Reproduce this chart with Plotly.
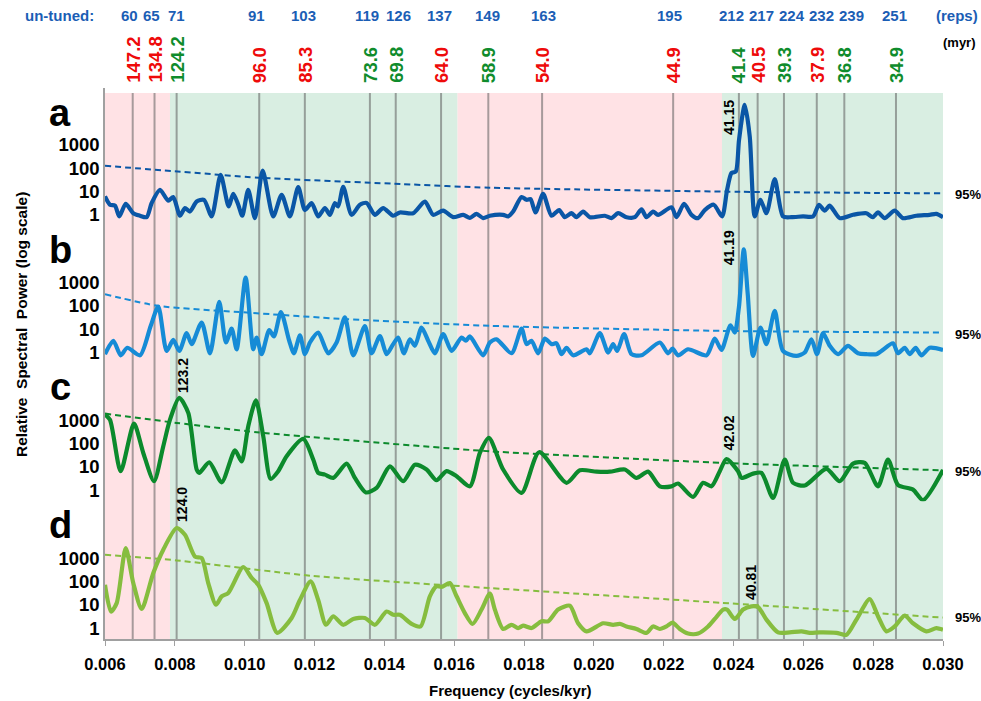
import plotly.graph_objects as go

# ---------------- data (frequency in cycles/kyr, relative spectral power) ----------------
freq_a = [0.006000, 0.006143, 0.006286, 0.006409, 0.006593, 0.006810, 0.007002, 0.007194, 0.007337, 0.007575,
          0.007812, 0.007955, 0.008147, 0.008290, 0.008433, 0.008625, 0.008834, 0.009055, 0.009312, 0.009541,
          0.009673, 0.009816, 0.009931, 0.010102, 0.010294, 0.010515, 0.010818, 0.011059, 0.011296, 0.011534,
          0.011726, 0.011918, 0.012106, 0.012298, 0.012441, 0.012585, 0.012679, 0.012822, 0.013063, 0.013300,
          0.013492, 0.013730, 0.013967, 0.014254, 0.014445, 0.014826, 0.015161, 0.015399, 0.015685, 0.015971,
          0.016258, 0.016450, 0.016641, 0.016830, 0.017022, 0.017403, 0.017546, 0.017689, 0.017930, 0.018073,
          0.018187, 0.018330, 0.018548, 0.018788, 0.019006, 0.019169, 0.019361, 0.019504, 0.019693, 0.019885,
          0.020314, 0.020506, 0.020695, 0.020936, 0.021173, 0.021365, 0.021508, 0.021697, 0.021840, 0.022224,
          0.022367, 0.022585, 0.022797, 0.022986, 0.023177, 0.023435, 0.023673, 0.023816, 0.023942, 0.024065,
          0.024159, 0.024322, 0.024465, 0.024609, 0.024772, 0.024943, 0.025181, 0.025418, 0.025659, 0.025991,
          0.026278, 0.026449, 0.026613, 0.026756, 0.027042, 0.027423, 0.027807, 0.027987, 0.028138, 0.028330,
          0.028616, 0.028854, 0.029238, 0.029618, 0.029810, 0.030000]
pow_a = [6.2, 2.7, 2.45, 0.85, 2.95, 1.17, 0.91, 0.79, 3.2, 11.7,
         4.0, 5.8, 0.91, 1.95, 1.38, 3.7, 4.4, 0.85, 52, 2.3,
         7.9, 2.7, 0.91, 11.7, 0.72, 79, 0.85, 7.2, 0.85, 15.5,
         1.6, 3.2, 0.85, 1.95, 1.0, 3.2, 2.3, 16, 1.0, 2.7,
         3.2, 1.0, 1.95, 0.91, 1.26, 1.17, 3.7, 1.0, 1.5, 0.79,
         1.0, 0.74, 1.1, 0.72, 0.91, 1.0, 0.85, 1.38, 5.8, 4.4,
         4.7, 1.26, 7.9, 0.91, 1.6, 0.79, 1.17, 0.79, 1.38, 0.79,
         0.91, 0.72, 1.17, 0.79, 0.79, 1.7, 0.79, 1.38, 1.0, 2.1,
         0.79, 2.95, 1.0, 0.72, 1.6, 2.7, 0.85, 11.7, 62, 72,
         1660, 52000, 2300, 0.85, 4.4, 1.17, 34, 0.85, 0.79, 0.85,
         0.85, 2.7, 1.5, 2.45, 0.72, 1.0, 1.17, 0.79, 1.26, 0.72,
         1.5, 0.72, 0.91, 1.0, 1.1, 0.79]

freq_b = [0.006000, 0.006238, 0.006449, 0.006638, 0.007002, 0.007308, 0.007526, 0.007766, 0.007955, 0.008127,
          0.008339, 0.008482, 0.008768, 0.009006, 0.009272, 0.009464, 0.009627, 0.009770, 0.010028, 0.010246,
          0.010343, 0.010486, 0.010704, 0.010838, 0.011039, 0.011276, 0.011411, 0.011583, 0.011726, 0.011869,
          0.012106, 0.012393, 0.012633, 0.012871, 0.013109, 0.013443, 0.013635, 0.013873, 0.014065, 0.014254,
          0.014397, 0.014560, 0.014732, 0.014875, 0.015067, 0.015256, 0.015447, 0.015685, 0.015926, 0.016212,
          0.016335, 0.016450, 0.016830, 0.017022, 0.017214, 0.017643, 0.017930, 0.018073, 0.018216, 0.018405,
          0.018597, 0.018788, 0.018931, 0.019074, 0.019218, 0.019407, 0.019791, 0.019885, 0.020171, 0.020409,
          0.020552, 0.020667, 0.020867, 0.021079, 0.021365, 0.021889, 0.022127, 0.022253, 0.022413, 0.022699,
          0.023226, 0.023464, 0.023655, 0.023913, 0.024036, 0.024159, 0.024294, 0.024408, 0.024560, 0.024772,
          0.024943, 0.025181, 0.025418, 0.025802, 0.026040, 0.026232, 0.026392, 0.026564, 0.026756, 0.026994,
          0.027280, 0.027566, 0.027807, 0.028093, 0.028236, 0.028568, 0.028711, 0.028903, 0.029046, 0.029218,
          0.029381, 0.029619, 0.030000]
pow_b = [0.85, 3.2, 0.76, 1.6, 0.76, 13.8, 93, 1.17, 3.5, 1.17,
         6.8, 2.3, 19.5, 0.93, 148, 2.7, 10.7, 1.38, 1660, 1.38,
         4.4, 0.85, 9.3, 4.9, 55, 3.2, 0.93, 5.5, 0.85, 2.7,
         7.2, 0.93, 2.7, 32, 0.76, 13.8, 0.93, 5.1, 0.85, 2.3,
         4.4, 0.93, 3.7, 1.95, 11.7, 3.2, 0.93, 6.2, 1.17, 4.4,
         3.2, 4.9, 0.76, 2.7, 3.7, 0.93, 10.7, 2.3, 3.2, 0.93,
         4.0, 2.3, 2.5, 0.85, 1.6, 0.76, 1.38, 0.93, 6.8, 1.0,
         2.3, 1.17, 6.2, 0.85, 0.76, 2.7, 0.93, 1.48, 0.76, 1.38,
         0.76, 4.0, 1.3, 14.8, 7.2, 100, 27000, 316, 0.72, 11.7,
         2.3, 62, 1.17, 0.72, 1.0, 3.7, 0.85, 6.8, 1.95, 0.85,
         1.95, 0.93, 0.85, 0.85, 1.17, 2.5, 0.93, 1.6, 0.85, 1.6,
         0.76, 1.6, 1.3]

freq_c = [0.006000, 0.006143, 0.006449, 0.006830, 0.007096, 0.007403, 0.007669, 0.007861, 0.008127, 0.008385,
          0.008625, 0.008700, 0.008986, 0.009341, 0.009722, 0.009914, 0.010103, 0.010323, 0.010532, 0.010744,
          0.010961, 0.011202, 0.011677, 0.011963, 0.012106, 0.012298, 0.012536, 0.012920, 0.013157, 0.013472,
          0.013778, 0.014159, 0.014540, 0.014875, 0.015210, 0.015496, 0.015782, 0.016069, 0.016450, 0.016736,
          0.016994, 0.017403, 0.017930, 0.018434, 0.019218, 0.019599, 0.020077, 0.020458, 0.020887, 0.021222,
          0.021554, 0.021889, 0.022224, 0.022413, 0.022842, 0.023129, 0.023369, 0.023607, 0.023799, 0.024131,
          0.024228, 0.024560, 0.024801, 0.025133, 0.025468, 0.025705, 0.026040, 0.026661, 0.027042, 0.027423,
          0.027758, 0.028138, 0.028425, 0.028711, 0.029141, 0.029427, 0.030000]
pow_c = [1780, 1070, 6.6, 724, 40, 2.45, 78, 1070, 9300, 2090,
         7.8, 5.6, 15.8, 2.2, 52, 17.4, 560, 7200, 210, 3.1,
         6.6, 29, 160, 21, 5.6, 4.7, 3.4, 14, 3.4, 0.81,
         1.26, 10.7, 2.45, 12.6, 7.8, 2.7, 6.6, 4.0, 1.48, 40,
         178, 7.8, 0.78, 43, 2.1, 7.2, 6.3, 6.3, 7.8, 3.4,
         6.3, 1.48, 1.48, 1.95, 0.52, 2.1, 1.48, 6.6, 22, 6.6,
         3.4, 5.2, 5.6, 0.47, 21, 2.1, 1.6, 8.3, 2.45, 14,
         15, 1.48, 21, 1.7, 1.07, 0.38, 7.4]

freq_d = [0.006000, 0.006172, 0.006335, 0.006593, 0.006810, 0.007051, 0.007383, 0.007669, 0.008053, 0.008290,
          0.008577, 0.008768, 0.008957, 0.009178, 0.009341, 0.009530, 0.009959, 0.010200, 0.010389, 0.010629,
          0.010933, 0.011345, 0.011583, 0.011889, 0.012106, 0.012327, 0.012536, 0.012822, 0.013109, 0.013443,
          0.013730, 0.014065, 0.014254, 0.014445, 0.014780, 0.015038, 0.015304, 0.015496, 0.015639, 0.015877,
          0.016069, 0.016306, 0.016527, 0.016784, 0.017022, 0.017165, 0.017403, 0.017643, 0.017832, 0.017975,
          0.018216, 0.018502, 0.018691, 0.018977, 0.019312, 0.019549, 0.019790, 0.020266, 0.020552, 0.020744,
          0.020936, 0.021222, 0.021508, 0.021697, 0.021889, 0.022080, 0.022253, 0.022462, 0.022699, 0.022986,
          0.023272, 0.023464, 0.023702, 0.023816, 0.024036, 0.024274, 0.024514, 0.024703, 0.024943, 0.025276,
          0.025611, 0.025946, 0.026184, 0.026470, 0.026948, 0.027234, 0.027520, 0.027901, 0.028138, 0.028379,
          0.028616, 0.028903, 0.029141, 0.029523, 0.029810, 0.030000]
pow_d = [72, 5.1, 11.7, 2700, 85, 6.6, 230, 2300, 19500, 10000,
         1170, 1000, 85, 10, 23, 32, 417, 141, 72, 11.7,
         0.62, 2.7, 16, 100, 16, 1.38, 3.2, 1.38, 2.45, 2.7,
         1.38, 5.1, 3.7, 3.7, 1.5, 1.17, 23, 62, 58, 85,
         23, 4.4, 1.5, 6.2, 30, 6.2, 0.91, 1.38, 1.0, 1.26,
         1.0, 1.95, 1.95, 6.2, 9.1, 1.6, 0.72, 1.6, 1.38, 1.5,
         1.17, 0.91, 0.62, 1.17, 0.91, 1.17, 1.7, 0.91, 0.58, 0.58,
         1.17, 2.45, 6.2, 6.2, 2.45, 6.2, 8.5, 7.9, 2.3, 0.65,
         0.65, 0.72, 0.62, 0.65, 0.62, 0.51, 2.3, 17.4, 3.2, 0.72,
         1.17, 3.4, 1.6, 0.72, 1.0, 0.85]

# 95% confidence levels
conf_a_f = [0.006000, 0.008000, 0.010410, 0.014450, 0.017020, 0.024180, 0.030000]
conf_a_p = [126, 74, 39, 21, 14.5, 9.7, 8.3]
conf_b_f = [0.006000, 0.007526, 0.010060, 0.012920, 0.017020, 0.023690, 0.030000]
conf_b_p = [316, 100, 52, 27, 14, 8.5, 7.2]
conf_c_f = [0.006000, 0.008050, 0.010350, 0.012530, 0.017020, 0.023690, 0.030000]
conf_c_p = [1950, 780, 310, 160, 47, 15, 7.2]
conf_d_f = [0.006000, 0.008050, 0.011890, 0.017020, 0.023690, 0.030000]
conf_d_p = [1400, 800, 175, 52, 12, 2.8]

# cycle periods (kyr) marked by vertical lines, and un-tuned repetitions
periods = [147.2, 134.8, 124.2, 96.0, 85.3, 73.6, 69.8, 64.0, 58.9, 54.0, 44.9, 41.4, 40.5, 39.3, 37.9, 36.8, 34.9]
period_kind = ['r', 'r', 'g', 'r', 'r', 'g', 'g', 'r', 'g', 'r', 'r', 'g', 'r', 'g', 'r', 'g', 'g']
reps = [60, 65, 71, 91, 103, 119, 126, 137, 149, 163, 195, 212, 217, 224, 232, 239, 251]

# shaded frequency bands
pink_bands = [(0.006, 0.00786), (0.01609, 0.02367)]
green_bands = [(0.00786, 0.01609), (0.02367, 0.030)]

# peak labels: (panel, period label, frequency)
peak_labels = [("a", "41.15", 0.02430), ("b", "41.19", 0.02428), ("c", "123.2", 0.00812),
               ("c", "42.02", 0.02380), ("d", "124.0", 0.00806), ("d", "40.81", 0.02450)]

x_ticks = [0.006, 0.008, 0.010, 0.012, 0.014, 0.016, 0.018, 0.020, 0.022, 0.024, 0.026, 0.028, 0.030]

# ---------------- layout helpers ----------------
W, H = 981, 701
ML, MR, MT, MB = 105, 38, 88, 62
PW, PH = W - ML - MR, H - MT - MB


def px(xp):
    return (xp - ML) / PW


def py(yp):
    return (H - MB - yp) / PH


FONT = "Arial, Liberation Sans, sans-serif"
RED = "#ee0a0a"
GRN = "#0f8c2c"
BLUE_T = "#1b5eb5"

colors = {"a": "#0a56a6", "b": "#168bd6", "c": "#0c8a2c", "d": "#86bd3f"}
yref = {"a": "y", "b": "y2", "c": "y3", "d": "y4"}

fig = go.Figure()

series = [("a", freq_a, pow_a, conf_a_f, conf_a_p),
          ("b", freq_b, pow_b, conf_b_f, conf_b_p),
          ("c", freq_c, pow_c, conf_c_f, conf_c_p),
          ("d", freq_d, pow_d, conf_d_f, conf_d_p)]

for name, fx, fy, cx, cy in series:
    fig.add_trace(go.Scatter(x=cx, y=cy, mode="lines", yaxis=yref[name],
                             line=dict(color=colors[name], width=2, dash="6px,4px", shape="spline", smoothing=0.6),
                             showlegend=False, hoverinfo="skip"))
    fig.add_trace(go.Scatter(x=fx, y=fy, mode="lines", yaxis=yref[name],
                             line=dict(color=colors[name], width=4.2, shape="spline", smoothing=0.7),
                             showlegend=False))

shapes = []
top_paper = py(93)
for x0, x1 in pink_bands:
    shapes.append(dict(type="rect", xref="x", yref="paper", x0=x0, x1=x1, y0=0, y1=top_paper,
                       fillcolor="#ffe2e5", line=dict(width=0), layer="below"))
for x0, x1 in green_bands:
    shapes.append(dict(type="rect", xref="x", yref="paper", x0=x0, x1=x1, y0=0, y1=top_paper,
                       fillcolor="#d9eee2", line=dict(width=0), layer="below"))
for p in periods:
    shapes.append(dict(type="line", xref="x", yref="paper", x0=1 / p, x1=1 / p, y0=0, y1=top_paper,
                       line=dict(color="rgba(95,95,95,0.55)", width=2), layer="below"))

annotations = []
# panel letters
for name, yc in [("a", 113), ("b", 250), ("c", 387), ("d", 525)]:
    annotations.append(dict(text="<b>%s</b>" % name, xref="paper", yref="paper", x=px(60), y=py(yc),
                            showarrow=False, font=dict(family=FONT, size=38, color="black"),
                            xanchor="center", yanchor="middle"))
# 95% labels
for yc in [194, 334, 471, 617]:
    annotations.append(dict(text="<b>95%</b>", xref="paper", yref="paper", x=px(968), y=py(yc),
                            showarrow=False, font=dict(family=FONT, size=13, color="black"),
                            xanchor="center", yanchor="middle"))
# un-tuned reps row
annotations.append(dict(text="<b>un-tuned:</b>", xref="paper", yref="paper", x=px(59), y=py(16),
                        showarrow=False, font=dict(family=FONT, size=15, color=BLUE_T),
                        xanchor="center", yanchor="middle"))
annotations.append(dict(text="<b>(reps)</b>", xref="paper", yref="paper", x=px(957), y=py(16),
                        showarrow=False, font=dict(family=FONT, size=15, color=BLUE_T),
                        xanchor="center", yanchor="middle"))
annotations.append(dict(text="<b>(myr)</b>", xref="paper", yref="paper", x=px(960), y=py(43),
                        showarrow=False, font=dict(family=FONT, size=13, color="black"),
                        xanchor="center", yanchor="middle"))
rep_shift = [-3, -3, 0, -3, -1, -3, 3, -2, -1, 1, -4, -7, 4, 8, 5, 7, -1]
for p, r, s in zip(periods, reps, rep_shift):
    annotations.append(dict(text="<b>%d</b>" % r, xref="x", yref="paper", x=1 / p, y=py(16), xshift=s,
                            showarrow=False, font=dict(family=FONT, size=15, color=BLUE_T),
                            xanchor="center", yanchor="middle"))
for p, k in zip(periods, period_kind):
    annotations.append(dict(text="<b>%.1f</b>" % p, xref="x", yref="paper", x=1 / p, y=py(85),
                            showarrow=False, textangle=-90,
                            font=dict(family=FONT, size=18.5, color=RED if k == "r" else GRN),
                            xanchor="center", yanchor="bottom"))
# peak labels
peak_y = {("a", "41.15"): 117, ("b", "41.19"): 248, ("c", "123.2"): 376,
          ("c", "42.02"): 433, ("d", "124.0"): 504, ("d", "40.81"): 582}
peak_dx = {("a", "41.15"): -15, ("b", "41.19"): -14, ("c", "123.2"): 4,
           ("c", "42.02"): 2, ("d", "124.0"): 5, ("d", "40.81"): 0}
for name, lab, f in peak_labels:
    annotations.append(dict(text="<b>%s</b>" % lab, xref="x", yref="paper", x=f, y=py(peak_y[(name, lab)]),
                            xshift=peak_dx[(name, lab)], showarrow=False, textangle=-90,
                            font=dict(family=FONT, size=14, color="black"),
                            xanchor="center", yanchor="middle"))
# axis titles
annotations.append(dict(text="<b>Relative\u00a0 Spectral\u00a0 Power (log scale)</b>", xref="paper", yref="paper",
                        x=px(21), y=py(325), showarrow=False, textangle=-90,
                        font=dict(family=FONT, size=15.5, color="black"), xanchor="center", yanchor="middle"))
annotations.append(dict(text="<b>Frequency (cycles/kyr)</b>", xref="paper", yref="paper",
                        x=px(510), y=py(690), showarrow=False,
                        font=dict(family=FONT, size=15, color="black"), xanchor="center", yanchor="middle"))

yaxis_common = dict(type="log", range=[-0.47, 5.44], tickvals=[1, 10, 100, 1000],
                    ticktext=["<b>1</b>", "<b>10</b>", "<b>100</b>", "<b>1000</b>"],
                    tickfont=dict(family=FONT, size=18.5, color="black"), showgrid=False, zeroline=False,
                    showline=True, linecolor="#a0a0a0", linewidth=1.5, ticks="", anchor="x")

fig.update_layout(
    width=W, height=H,
    margin=dict(l=ML, r=MR, t=MT, b=MB, pad=0),
    paper_bgcolor="white", plot_bgcolor="white",
    font=dict(family=FONT),
    xaxis=dict(range=[0.006, 0.030], tickvals=x_ticks, ticktext=["<b>%.3f</b>" % v for v in x_ticks],
               tickfont=dict(family=FONT, size=16.5, color="black"), showgrid=False, zeroline=False,
               showline=True, linecolor="#a0a0a0", linewidth=1.5, ticks="outside", ticklen=5,
               tickcolor="#a0a0a0", anchor="y4", ticklabelstandoff=4),
    yaxis=dict(domain=[0.75, 1.0], **yaxis_common),
    yaxis2=dict(domain=[0.5, 0.75], **yaxis_common),
    yaxis3=dict(domain=[0.25, 0.5], **yaxis_common),
    yaxis4=dict(domain=[0.0, 0.25], **yaxis_common),
    shapes=shapes,
    annotations=annotations,
    showlegend=False,
)

fig.write_html("out.html")
